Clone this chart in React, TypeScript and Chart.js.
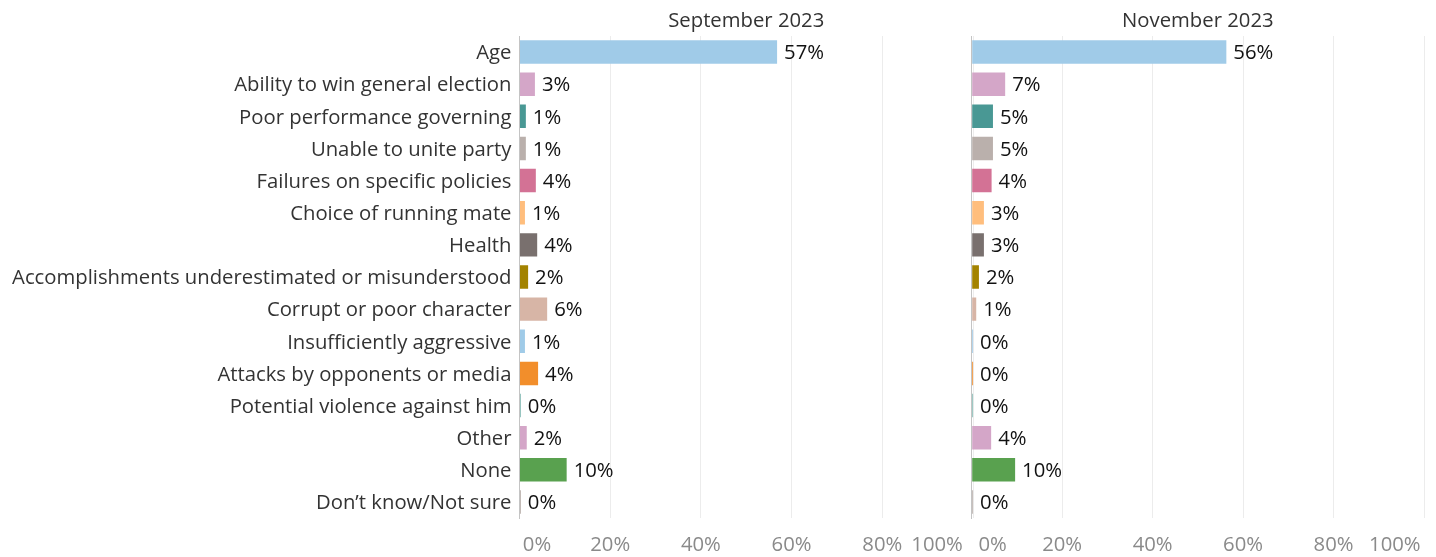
import React, { useEffect, useRef } from "react";
import { Chart, registerables } from "chart.js";

Chart.register(...registerables);

const categories = [
  "Age",
  "Ability to win general election",
  "Poor performance governing",
  "Unable to unite party",
  "Failures on specific policies",
  "Choice of running mate",
  "Health",
  "Accomplishments underestimated or misunderstood",
  "Corrupt or poor character",
  "Insufficiently aggressive",
  "Attacks by opponents or media",
  "Potential violence against him",
  "Other",
  "None",
  "Don\u2019t know/Not sure",
];

const september2023 = [56.8, 3.4, 1.4, 1.4, 3.6, 1.2, 3.9, 1.9, 6.1, 1.2, 4.1, 0.3, 1.6, 10.4, 0.3];
const november2023 = [56.3, 7.4, 4.7, 4.7, 4.4, 2.7, 2.7, 1.6, 1.0, 0.3, 0.3, 0.3, 4.3, 9.6, 0.3];

const barColors = [
  "#a0cbe8",
  "#d4a6c8",
  "#499894",
  "#bab0ac",
  "#d37295",
  "#ffbe7d",
  "#79706e",
  "#a38300",
  "#d7b5a6",
  "#a0cbe8",
  "#f28e2b",
  "#86bcb6",
  "#d4a6c8",
  "#59a14f",
  "#bab0ac",
];

const xTickValues = [0, 20, 40, 60, 80, 100];
const panelTitles = ["September 2023", "November 2023"];

const FONT = "'Open Sans', 'Noto Sans', sans-serif";
const FS = 20.3;

const CHART_TOP = 36;
const CHART_BOTTOM = 518;
const PAGE_H = 557;
const TICK_PAD = 3;
const TICK_CENTER = 545;

const valueLabelPlugin = {
  id: "valueLabels",
  afterDatasetsDraw(chart: any) {
    const ctx = chart.ctx;
    const meta = chart.getDatasetMeta(0);
    const data = chart.data.datasets[0].data as number[];
    ctx.save();
    ctx.font = `${FS}px ${FONT}`;
    ctx.fillStyle = "#111111";
    ctx.textAlign = "left";
    ctx.textBaseline = "middle";
    meta.data.forEach((bar: any, i: number) => {
      ctx.fillText(Math.round(data[i]) + "%", bar.x + 7, bar.y + 1.5);
    });
    ctx.restore();
  },
};

const panelTitlePlugin = {
  id: "panelTitle",
  afterDraw(chart: any, _args: any, opts: any) {
    const ctx = chart.ctx;
    const { left, right } = chart.chartArea;
    ctx.save();
    ctx.font = `${FS}px ${FONT}`;
    ctx.fillStyle = "#333333";
    ctx.textAlign = "center";
    ctx.textBaseline = "middle";
    ctx.fillText(opts.text, (left + right) / 2, 21);
    ctx.restore();
  },
};

function makeConfig(values: number[], title: string, showCats: boolean, yWidth: number, padRight: number, firstPad: string, lastPad: string) {
  return {
    type: "bar",
    data: {
      labels: categories,
      datasets: [
        {
          data: values,
          backgroundColor: barColors,
          borderWidth: 0,
          barPercentage: 0.73,
          categoryPercentage: 1.0,
        },
      ],
    },
    options: {
      indexAxis: "y",
      animation: false,
      responsive: false,
      maintainAspectRatio: false,
      layout: { padding: { top: CHART_TOP, bottom: 0, left: 0, right: padRight } },
      plugins: {
        legend: { display: false },
        tooltip: { enabled: false },
        title: { display: false },
        panelTitle: { text: title },
      },
      scales: {
        x: {
          min: 0,
          max: 100,
          afterBuildTicks(scale: any) {
            scale.ticks = xTickValues.map((v) => ({ value: v }));
          },
          afterFit(scale: any) {
            scale.height = PAGE_H - CHART_BOTTOM;
          },
          grid: { color: "#ececec", lineWidth: 1, drawTicks: false },
          border: { display: false },
          ticks: {
            align: "inner",
            padding: TICK_PAD,
            color: "#8a8a8a",
            font: { family: FONT, size: FS, lineHeight: (2 * (TICK_CENTER - CHART_BOTTOM - TICK_PAD)) / FS },
            callback(value: any, index: number) {
              const t = value + "%";
              if (index === 0) return firstPad + t;
              if (index === xTickValues.length - 1) return t + lastPad;
              return t;
            },
          },
        },
        y: {
          afterFit(scale: any) {
            scale.width = yWidth;
          },
          grid: { display: false, drawTicks: false },
          border: { display: true, color: "#c4c4c4", width: 1, dash: [3, 3] },
          ticks: {
            display: showCats,
            padding: 8,
            labelOffset: 1.5,
            color: "#333333",
            font: { family: FONT, size: FS },
          },
        },
      },
    },
    plugins: [valueLabelPlugin, panelTitlePlugin],
  };
}

function Panel(props: { values: number[]; title: string; showCats: boolean; left: number; width: number; yWidth: number; padRight: number; firstPad: string; lastPad: string }) {
  const ref = useRef<HTMLCanvasElement | null>(null);
  useEffect(() => {
    if (!ref.current) return;
    const chart = new Chart(ref.current, makeConfig(props.values, props.title, props.showCats, props.yWidth, props.padRight, props.firstPad, props.lastPad) as any);
    return () => chart.destroy();
  }, []);
  return (
    <canvas
      ref={ref}
      width={props.width}
      height={PAGE_H}
      style={{ position: "absolute", left: props.left, top: 0, width: props.width, height: PAGE_H }}
    />
  );
}

export default function App() {
  return (
    <div style={{ position: "absolute", left: 0, top: 0, width: 1436, height: PAGE_H, background: "#ffffff" }}>
      <Panel values={september2023} title={panelTitles[0]} showCats={true} left={0} width={990} yWidth={519.5} padRight={17} firstPad={"\u2009"} lastPad={"\u2002"} />
      <Panel values={november2023} title={panelTitles[1]} showCats={false} left={960} width={476} yWidth={11.7} padRight={12} firstPad={"\u2009\u2009"} lastPad={"\u2009"} />
    </div>
  );
}
